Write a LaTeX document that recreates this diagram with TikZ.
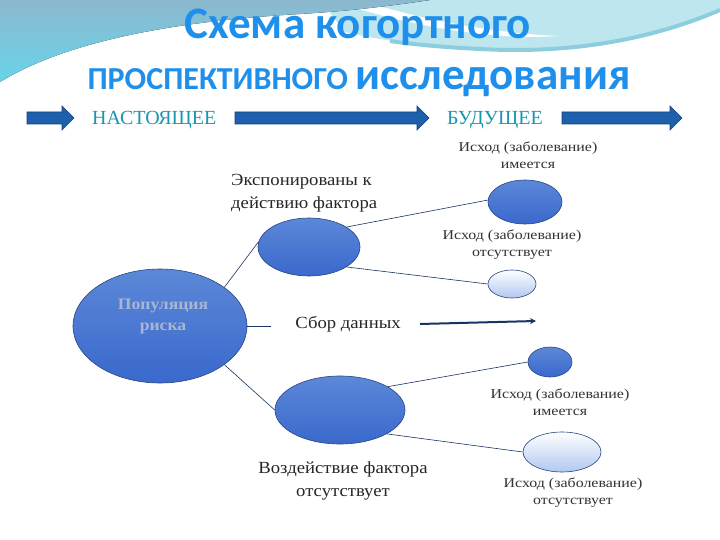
\documentclass[tikz,border=0pt]{standalone}
\usepackage{fontspec}
\setmainfont{Liberation Serif}
\newfontfamily\bodyfont[FakeStretch=1.1]{Liberation Serif}
\newfontfamily\smallfont[FakeStretch=1.18]{Liberation Serif}
\newfontfamily\titlefont{Carlito}
\usetikzlibrary{shapes.geometric,arrows.meta}
\definecolor{bgtop}{RGB}{140,184,206}
\definecolor{bgbot}{RGB}{104,212,234}
\definecolor{cyanlt}{RGB}{190,230,238}
\definecolor{cyanband}{RGB}{140,206,222}
\definecolor{titleblue}{RGB}{30,144,236}
\definecolor{arrowfill}{RGB}{30,96,172}
\definecolor{arrowdraw}{RGB}{20,66,124}
\definecolor{tealtext}{RGB}{26,150,176}
\definecolor{ellblue}{RGB}{92,136,216}
\definecolor{ellbluedk}{RGB}{58,104,204}
\definecolor{ellline}{RGB}{40,70,130}
\definecolor{elllight}{RGB}{176,200,240}
\definecolor{linknavy}{RGB}{24,52,96}
\definecolor{poptext}{RGB}{168,182,210}
\tikzset{
  bigell/.style={ellipse, draw=ellline, line width=0.6pt, top color=ellblue, bottom color=ellbluedk, inner sep=0pt},
  lightell/.style={ellipse, draw=ellline, line width=0.6pt, top color=white, bottom color=elllight, inner sep=0pt},
  link/.style={draw=linknavy, line width=0.6pt},
  blockarrow/.style={fill=arrowfill, draw=arrowdraw, line width=0.6pt},
  bodytext/.style={font=\bodyfont\fontsize{17}{23}\selectfont, text=black!85, inner sep=0pt},
  smalltext/.style={font=\smallfont\fontsize{13.5}{17}\selectfont, text=black!80, align=center, inner sep=0pt},
  timetext/.style={font=\fontsize{20}{20}\selectfont, text=tealtext, inner sep=0pt}
}
\newcommand{\blockarr}[4]{% x1, xhead, x2, y
  \draw[blockarrow] (#1,#4-6) -- (#2,#4-6) -- (#2,#4-12) -- (#3,#4) -- (#2,#4+12) -- (#2,#4+6) -- (#1,#4+6) -- cycle;}
\begin{document}
\begin{tikzpicture}[x=1pt,y=-1pt]
\useasboundingbox (0,0) rectangle (720,540);
\fill[white] (0,0) rectangle (720,540);
% background swooshes
\fill[cyanlt] (320,0) -- (720,0) -- (720,10) .. controls (650,40) and (570,54) .. (480,49) .. controls (420,46) and (380,40) .. (345,32) -- cycle;
\draw[cyanband, line width=4pt] (720,10) .. controls (650,40) and (570,54) .. (480,49) .. controls (440,47) and (410,44) .. (390,41);
\fill[white] (330,0) -- (360,0) .. controls (420,20) and (500,34) .. (560,36) .. controls (500,40) and (420,30) .. (330,0) -- cycle;
\fill[top color=bgtop, bottom color=bgbot] (0,0) -- (430,0) .. controls (390,6) and (350,11) .. (300,14) .. controls (160,22) and (60,45) .. (0,82) -- cycle;
% titles
\node[font=\titlefont\bfseries\fontsize{45}{45}\selectfont, text=titleblue, anchor=base, inner sep=0pt] (t1) at (358,39) {Схема когортного};
\node[font=\titlefont\bfseries, text=titleblue, anchor=base, inner sep=0pt] (t2) at (359,90) {{\fontsize{32}{32}\selectfont ПРОСПЕКТИВНОГО}\hspace{8pt}{\fontsize{45}{45}\selectfont исследования}};
% time arrows
\blockarr{27}{62}{74}{118}
\blockarr{235}{417}{429}{118}
\blockarr{562}{670}{682}{118}
\node[timetext, anchor=base west] (now) at (92,125) {НАСТОЯЩЕЕ};
\node[timetext, anchor=base west] (fut) at (447,125) {БУДУЩЕЕ};
% ellipses
\node[bigell, minimum width=174pt, minimum height=114pt] (pop) at (160,326) {};
\node[bigell, minimum width=102pt, minimum height=58pt] (exp) at (309,247) {};
\node[bigell, minimum width=74pt, minimum height=44pt] (o1) at (525,202) {};
\node[lightell, minimum width=48pt, minimum height=28pt] (o2) at (512,284) {};
\node[bigell, minimum width=130pt, minimum height=68pt] (nexp) at (340,410) {};
\node[bigell, minimum width=44pt, minimum height=30pt] (o3) at (550,362) {};
\node[lightell, minimum width=78pt, minimum height=40pt] (o4) at (562,452) {};
% connectors
\coordinate (c1) at (271,326);
\draw[link] (pop.31) -- (exp.174);
\draw[link] (pop.-31) -- (nexp.180);
\draw[link] (pop.east) -- (c1);
\draw[link] (exp.28) -- (o1.177);
\draw[link] (exp.-28) -- (o2.180);
\draw[link] (nexp.26) -- (o3.180);
\draw[link] (nexp.-27) -- (o4.180);
\coordinate (a1) at (420,324);
\coordinate (a2) at (536,321);
\draw[draw=linknavy, line width=2pt, -{Stealth[length=6pt,width=6pt]}] (a1) -- (a2);
% texts
\node[font=\bodyfont\bfseries\fontsize{16}{21}\selectfont, text=poptext, align=center, inner sep=0pt] (poplbl) at (163,316) {Популяция\\риска};
\node[bodytext, align=left, anchor=west] (explbl) at (231,193) {Экспонированы к\\действию фактора};
\node[smalltext] (o1lbl) at (528,155) {Исход (заболевание)\\имеется};
\node[smalltext] (o2lbl) at (512,245) {Исход (заболевание)\\отсутствует};
\node[bodytext] (sbor) at (348,324) {Сбор данных};
\node[smalltext] (o3lbl) at (560,402) {Исход (заболевание)\\имеется};
\node[bodytext, align=center] (nexplbl) at (343,481) {Воздействие фактора\\отсутствует};
\node[smalltext] (o4lbl) at (573,493) {Исход (заболевание)\\отсутствует};
\end{tikzpicture}
\end{document}
